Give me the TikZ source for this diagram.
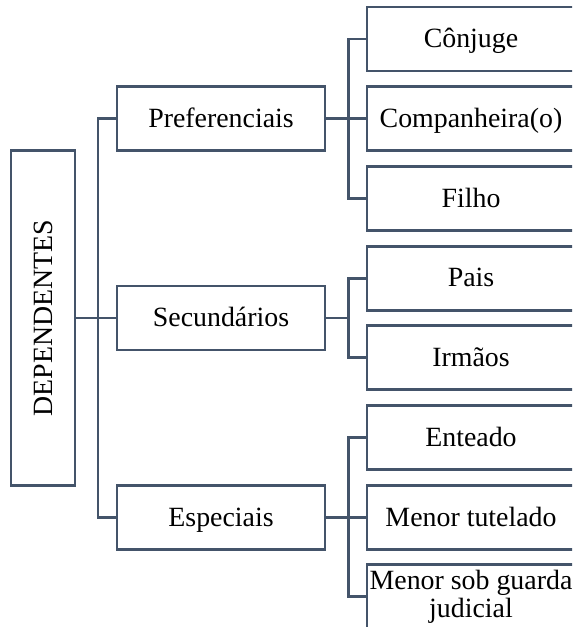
\documentclass[tikz,border=0pt]{standalone}
\usepackage{fontspec}
\setmainfont{Liberation Serif}
\usetikzlibrary{calc,positioning}
\definecolor{slate}{HTML}{44546A}

\begin{document}
\begin{tikzpicture}[x=0.75pt,y=-0.75pt,
  box/.style={draw=slate,line width=2.2pt,fill=white,minimum width=156pt,minimum height=48pt,inner sep=0pt,font=\fontsize{20.9}{21}\selectfont},
  oneline/.style={text height=14.6pt,text depth=1.3pt},
  link/.style={draw=slate,line width=2.2pt}]
  \useasboundingbox (0,0) rectangle (572,627);
  \clip (0,0) rectangle (572,627);

  % Root
  \node[box,minimum width=48pt,minimum height=251pt] (root) at (43,318) {\rotatebox{90}{DEPENDENTES}};

  % Groups
  \node[box,oneline] (pref) at (221,118.7) {Preferenciais};
  \node[box,oneline] (sec) at (221,318) {Secundários};
  \node[box,oneline] (esp) at (221,517.2) {Especiais};

  % Preferenciais
  \node[box,oneline] (conj) at (471,39) {Cônjuge};
  \node[box,oneline] (comp) at (471,118.7) {Companheira(o)};
  \node[box,oneline] (filho) at (471,198.4) {Filho};

  % Secundarios
  \node[box,oneline] (pais) at (471,278.1) {Pais};
  \node[box,oneline] (irmaos) at (471,357.8) {Irmãos};

  % Especiais
  \node[box,oneline] (enteado) at (471,437.5) {Enteado};
  \node[box,oneline] (tutelado) at (471,517.2) {Menor tutelado};
  \node[box,align=center,text height=35.6pt,text depth=4.1pt] (guarda) at (471,596.9) {Menor sob guarda\\judicial};

  % Root links
  \draw[link] (root.east) -- ++(21.5,0) |- (pref.west);
  \draw[link] (root.east) -- ++(21.5,0) |- (sec.west);
  \draw[link] (root.east) -- ++(21.5,0) |- (esp.west);

  % Group links
  \draw[link] (pref.east) -- ++(22,0) |- (conj.west);
  \draw[link] (pref.east) -- ++(22,0) |- (comp.west);
  \draw[link] (pref.east) -- ++(22,0) |- (filho.west);
  \draw[link] (sec.east) -- ++(22,0) |- (pais.west);
  \draw[link] (sec.east) -- ++(22,0) |- (irmaos.west);
  \draw[link] (esp.east) -- ++(22,0) |- (enteado.west);
  \draw[link] (esp.east) -- ++(22,0) |- (tutelado.west);
  \draw[link] (esp.east) -- ++(22,0) |- (guarda.west);
\end{tikzpicture}
\end{document}
